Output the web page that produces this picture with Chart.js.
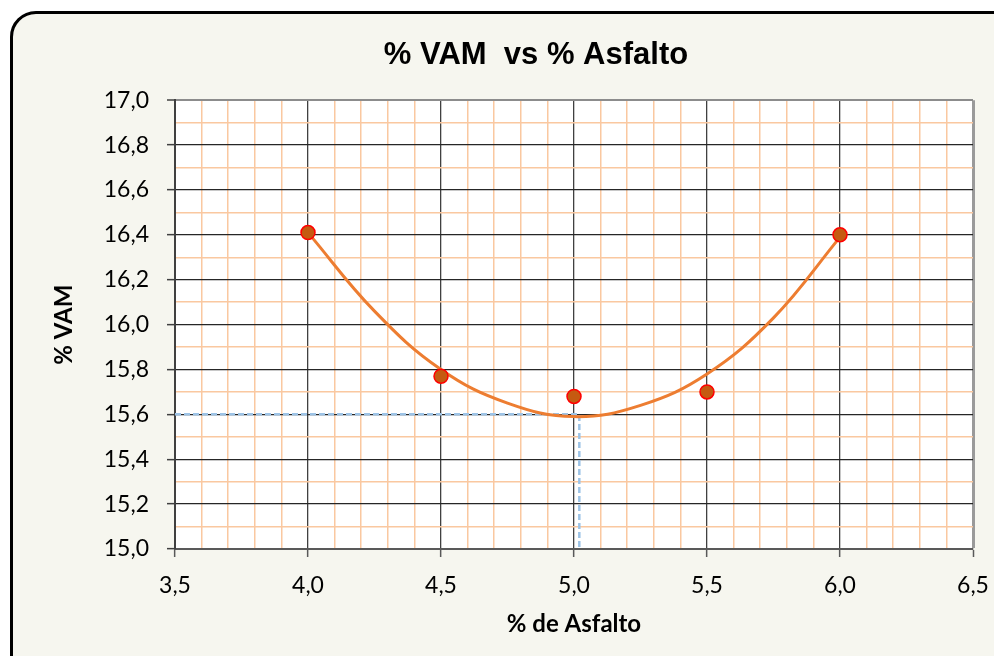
<!DOCTYPE html>
<html>
<head>
<meta charset="utf-8">
<script src="https://cdn.jsdelivr.net/npm/chart.js@4.4.0/dist/chart.umd.min.js"></script>
<style>
  html, body { margin: 0; padding: 0; background: #ffffff; overflow: hidden; }
  #frame {
    position: absolute; left: 10px; top: 11px;
    width: 1100px; height: 700px;
    border: 3px solid #000; border-radius: 26px;
    background: #f6f6ef;
  }
  #wrap { position: absolute; left: 0; top: 0; width: 1072px; height: 656px; }
</style>
</head>
<body>
<div id="frame"></div>
<div id="wrap"><canvas id="vamChart" width="1072" height="656"></canvas></div>
<script>
// measured points
const asfalto = [4.0, 4.5, 5.0, 5.5, 6.0];
const vam = [16.41, 15.77, 15.68, 15.70, 16.40];

// trend curve
const curveX = [4.0, 4.25, 4.5, 4.75, 5.0, 5.25, 5.5, 5.75, 6.0];
const curveY = [16.41, 16.06, 15.80, 15.65, 15.59, 15.64, 15.78, 16.03, 16.39];

// optimum guide (dashed)
const optX = [3.5, 5.02, 5.02];
const optY = [15.6, 15.6, 15.0];

const toXY = (xs, ys) => xs.map((x, i) => ({ x: x, y: ys[i] }));

const isMajorX = v => Math.abs(v * 2 - Math.round(v * 2)) < 1e-6;
const isMajorY = v => Math.abs(v * 5 - Math.round(v * 5)) < 1e-6;

const plotBg = {
  id: 'plotBg',
  beforeDraw(chart) {
    const a = chart.chartArea, c = chart.ctx;
    c.save();
    c.fillStyle = '#ffffff';
    c.fillRect(a.left, a.top, a.right - a.left, a.bottom - a.top);
    c.restore();
  }
};

const ctx = document.getElementById('vamChart').getContext('2d');
const vamChart = new Chart(ctx, {
  type: 'scatter',
  data: {
    datasets: [
      {
        label: '% VAM',
        data: toXY(asfalto, vam),
        showLine: false,
        pointRadius: 7,
        pointBackgroundColor: '#c55a11',
        pointBorderColor: '#ff0000',
        pointBorderWidth: 1.5
      },
      {
        label: 'Tendencia',
        data: toXY(curveX, curveY),
        showLine: true,
        borderColor: '#ed7d31',
        borderWidth: 3,
        tension: 0.4,
        pointRadius: 0
      },
      {
        label: 'Optimo',
        data: toXY(optX, optY),
        showLine: true,
        borderColor: '#9dc3e6',
        borderWidth: 2.5,
        borderDash: [6, 3],
        tension: 0,
        pointRadius: 0
      }
    ]
  },
  plugins: [plotBg],
  options: {
    responsive: false,
    animation: false,
    layout: { padding: 0 },
    scales: {
      x: {
        type: 'linear',
        min: 3.5,
        max: 6.5,
        afterFit: s => { s.height = 107; },
        border: { color: '#595959', width: 2 },
        grid: {
          color: c => c.tick.value >= 6.5 - 1e-6 ? '#9a9a9a' : (isMajorX(c.tick.value) ? '#404040' : '#fac8a0'),
          lineWidth: c => c.tick.value >= 6.5 - 1e-6 ? 3 : (isMajorX(c.tick.value) ? 1.3 : 1.5),
          tickColor: c => isMajorX(c.tick.value) ? '#595959' : 'rgba(0,0,0,0)',
          tickLength: 8,
          tickWidth: 1.5
        },
        ticks: {
          stepSize: 0.1,
          autoSkip: false,
          maxRotation: 0,
          padding: 15,
          color: '#000',
          font: { family: 'Lato', size: 23 },
          callback: v => isMajorX(v) ? v.toFixed(1).replace('.', ',') : ''
        },
        title: {
          display: true,
          text: '% de Asfalto',
          color: '#000',
          font: { family: 'Lato', size: 24, weight: 'bold' },
          padding: { top: 0, bottom: 17 }
        }
      },
      y: {
        type: 'linear',
        min: 15.0,
        max: 17.0,
        afterFit: s => { s.width = 175; },
        border: { color: '#404040', width: 2 },
        grid: {
          color: c => c.tick.value >= 17 - 1e-6 ? '#8c8c8c' : (isMajorY(c.tick.value) ? '#262626' : '#fac8a0'),
          lineWidth: c => c.tick.value >= 17 - 1e-6 ? 2 : (isMajorY(c.tick.value) ? 1.3 : 1.5),
          tickColor: c => isMajorY(c.tick.value) ? '#404040' : 'rgba(0,0,0,0)',
          tickLength: 8,
          tickWidth: 1.5
        },
        ticks: {
          stepSize: 0.1,
          autoSkip: false,
          padding: 18,
          color: '#000',
          font: { family: 'Lato', size: 23 },
          callback: v => isMajorY(v) ? v.toFixed(1).replace('.', ',') : ''
        },
        title: {
          display: true,
          text: '% VAM',
          color: '#000',
          font: { family: 'Lato', size: 24, weight: 'bold' },
          padding: { top: 50, bottom: 0 }
        }
      },
      // empty right-hand box so the plot ends where the reference does
      y2: {
        type: 'linear',
        position: 'right',
        afterFit: s => { s.width = 99; },
        grid: { display: false },
        border: { display: false },
        ticks: { display: false }
      }
    },
    plugins: {
      legend: { display: false },
      tooltip: { enabled: false },
      title: {
        display: true,
        text: '% VAM  vs % Asfalto',
        color: '#000',
        font: { family: 'Liberation Sans', size: 31, weight: 'bold' },
        padding: { top: 37, bottom: 26 }
      }
    }
  }
});
</script>
</body>
</html>
